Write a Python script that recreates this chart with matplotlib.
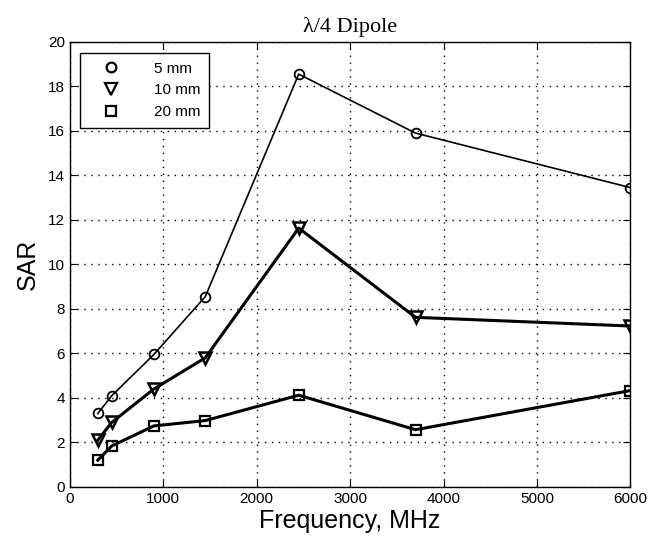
import numpy as np
import matplotlib
matplotlib.use("Agg")
import matplotlib.pyplot as plt
from matplotlib.lines import Line2D

# частоты, МГц
freq = [300, 450, 900, 1450, 2450, 3700, 6000]
# SAR для трёх расстояний
sar_5mm = [3.3, 4.1, 5.95, 8.55, 18.55, 15.9, 13.45]
sar_10mm = [2.1, 2.9, 4.4, 5.8, 11.63, 7.62, 7.23]
sar_20mm = [1.2, 1.84, 2.74, 2.98, 4.12, 2.57, 4.33]
labels = ["5 mm", "10 mm", "20 mm"]

plt.rcParams['font.family'] = ['Liberation Sans', 'DejaVu Sans']

fig = plt.figure(figsize=(6.52, 5.44), dpi=100)
ax = fig.add_axes([0.107, 0.105, 0.86, 0.818])

ax.plot(freq, sar_5mm, color='k', lw=1.2, marker='o', ms=7, mfc='none', mew=1.3)
ax.plot(freq, sar_10mm, color='k', lw=2.2, marker='v', ms=8, mfc='none', mew=1.8)
ax.plot(freq, sar_20mm, color='k', lw=2.2, marker='s', ms=7.5, mfc='none', mew=1.6)

ax.set_xlim(0, 6000)
ax.set_ylim(0, 20)
ax.set_xticks(np.arange(0, 6001, 1000))
ax.set_yticks(np.arange(0, 21, 2))
ax.tick_params(direction='in', top=True, right=True, labelsize=11, length=5)
ax.grid(True, linestyle=(0, (1, 4)), color='k', lw=1.0)
for s in ax.spines.values():
    s.set_linewidth(1.0)

ax.set_title('λ/4 Dipole', family='Liberation Serif', fontsize=16, pad=7)
ax.set_xlabel("Frequency, MHz", fontsize=18, labelpad=2)
ax.set_ylabel("SAR", fontsize=18, labelpad=6)

handles = [Line2D([], [], ls='none', color='k', marker=m, ms=ms, mfc='none', mew=1.6)
           for m, ms in [('o', 7), ('v', 8), ('s', 7.5)]]
leg = ax.legend(handles, labels, loc='upper left', fontsize=11, fancybox=False,
                edgecolor='k', framealpha=1, handlelength=2.8, handletextpad=1.4,
                borderpad=0.6, labelspacing=0.5, borderaxespad=0.7)
leg.get_frame().set_linewidth(1.0)

fig.savefig("out.png", dpi=100)
